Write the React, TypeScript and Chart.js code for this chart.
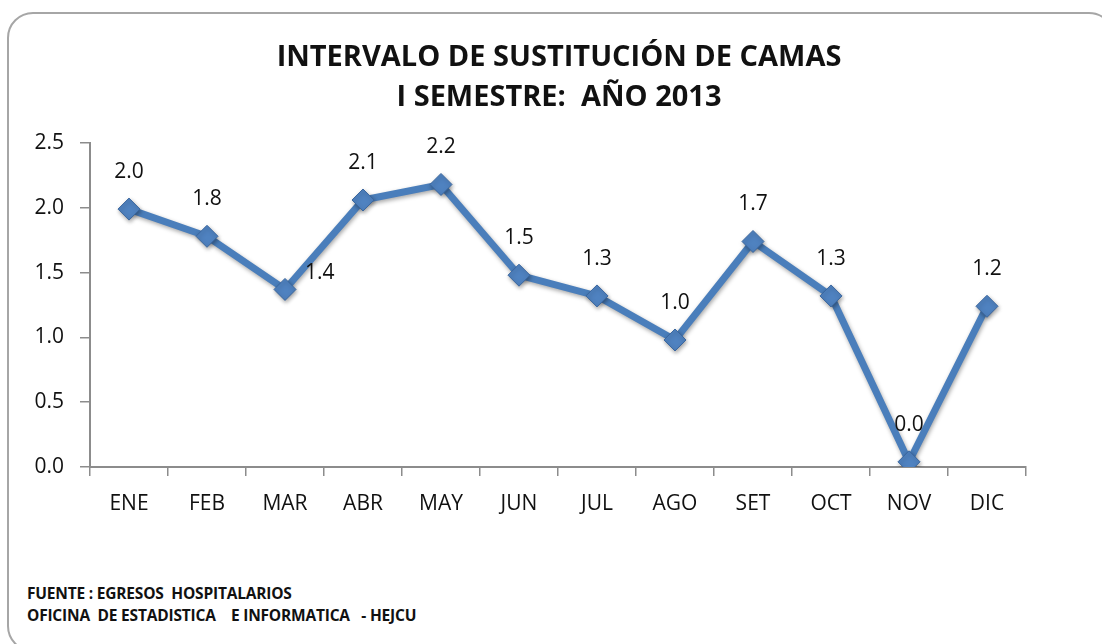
import React, { useEffect, useRef } from "react";
import { Chart, registerables } from "chart.js";

Chart.register(...registerables);

const TITLE_LINES = ["INTERVALO DE SUSTITUCIÓN DE CAMAS", "I SEMESTRE:  AÑO 2013"];
const MONTHS = ["ENE", "FEB", "MAR", "ABR", "MAY", "JUN", "JUL", "AGO", "SET", "OCT", "NOV", "DIC"];
const VALUES = [1.99, 1.78, 1.37, 2.06, 2.18, 1.48, 1.32, 0.98, 1.74, 1.32, 0.04, 1.24];
const Y_TICKS = [0, 0.5, 1.0, 1.5, 2.0, 2.5];
const RIGHT_LABEL_INDEX = [2];
const FOOTNOTES = ["FUENTE : EGRESOS  HOSPITALARIOS", "OFICINA  DE ESTADISTICA    E INFORMATICA   - HEJCU"];

const FONT = "'Open Sans', 'Noto Sans', sans-serif";

const titlePlugin = {
  id: "centeredTitle",
  afterDraw(chart: any) {
    const ctx = chart.ctx;
    ctx.save();
    ctx.font = `bold 29px ${FONT}`;
    ctx.fillStyle = "#111";
    ctx.textAlign = "center";
    ctx.textBaseline = "middle";
    TITLE_LINES.forEach((t, i) => ctx.fillText(t, 559, 58 + i * 40));
    ctx.restore();
  },
};

const dataLabelPlugin = {
  id: "dataLabels",
  afterDatasetsDraw(chart: any) {
    const ctx = chart.ctx;
    const meta = chart.getDatasetMeta(0);
    ctx.save();
    ctx.font = `21px ${FONT}`;
    ctx.fillStyle = "#111";
    meta.data.forEach((pt: any, i: number) => {
      const txt = VALUES[i].toFixed(1);
      ctx.textBaseline = "middle";
      if (RIGHT_LABEL_INDEX.includes(i)) {
        ctx.textAlign = "left";
        ctx.fillText(txt, pt.x + 20, pt.y - 16);
      } else {
        ctx.textAlign = "center";
        ctx.fillText(txt, pt.x, pt.y - 37);
      }
    });
    ctx.restore();
  },
};

const shadowPlugin = {
  id: "lineShadow",
  beforeDatasetDraw(chart: any) {
    const ctx = chart.ctx;
    ctx.save();
    ctx.shadowColor = "rgba(0,0,0,0.35)";
    ctx.shadowBlur = 4;
    ctx.shadowOffsetX = 1;
    ctx.shadowOffsetY = 2;
  },
  afterDatasetDraw(chart: any) {
    chart.ctx.restore();
  },
};

export default function App() {
  const ref = useRef<HTMLCanvasElement | null>(null);

  useEffect(() => {
    if (!ref.current) return;
    const chart = new Chart(ref.current, {
      type: "line",
      data: {
        labels: MONTHS,
        datasets: [
          {
            data: VALUES,
            borderColor: "#4a7ebb",
            borderWidth: 7,
            backgroundColor: "#4a7ebb",
            pointStyle: "rectRot",
            pointRadius: 11,
            pointHoverRadius: 11,
            pointBackgroundColor: "#4f82c0",
            pointBorderColor: "#3a669e",
            pointBorderWidth: 1,
            tension: 0,
            fill: false,
          },
        ],
      },
      options: {
        animation: false,
        responsive: false,
        maintainAspectRatio: false,
        events: [],
        layout: { padding: { left: 0, right: 76, top: 143, bottom: 0 } },
        plugins: {
          legend: { display: false },
          tooltip: { enabled: false },
          title: { display: false },
        },
        scales: {
          x: {
            offset: true,
            grid: {
              offset: true,
              drawOnChartArea: false,
              drawTicks: true,
              tickLength: 9,
              color: "#8c8c8c",
              lineWidth: 1.5,
            },
            border: { color: "#8c8c8c", width: 2 },
            ticks: {
              color: "#111",
              font: { family: FONT, size: 21 },
              padding: 15,
              maxRotation: 0,
            },
            afterFit(scale: any) {
              scale.height = 93;
            },
          },
          y: {
            min: 0,
            max: 2.5,
            afterBuildTicks(scale: any) {
              scale.ticks = Y_TICKS.map((v) => ({ value: v }));
            },
            grid: {
              drawOnChartArea: false,
              drawTicks: true,
              tickLength: 10,
              color: "#8c8c8c",
              lineWidth: 1.5,
            },
            border: { color: "#8c8c8c", width: 2 },
            ticks: {
              color: "#111",
              font: { family: FONT, size: 21 },
              padding: 16,
              callback: (v: any) => Number(v).toFixed(1),
            },
            afterFit(scale: any) {
              scale.width = 90;
            },
          },
        },
      },
      plugins: [shadowPlugin, dataLabelPlugin, titlePlugin],
    });
    return () => chart.destroy();
  }, []);

  return (
    <div
      style={{
        position: "fixed",
        left: 0,
        top: 0,
        width: 1102,
        height: 644,
        overflow: "hidden",
        background: "#fff",
      }}
    >
      <div
        style={{
          position: "absolute",
          left: 7,
          top: 12,
          width: 1108,
          height: 640,
          border: "2.5px solid #a6a6a6",
          borderRadius: 26,
          boxSizing: "border-box",
        }}
      />
      <canvas
        ref={ref}
        width={1102}
        height={560}
        style={{ position: "absolute", left: 0, top: 0, width: 1102, height: 560 }}
      />
      <div
        style={{
          position: "absolute",
          left: 27,
          top: 582,
          fontFamily: FONT,
          fontWeight: 700,
          fontSize: 15.5,
          lineHeight: "22px",
          color: "#111",
          whiteSpace: "pre",
          letterSpacing: -0.2,
        }}
      >
        {FOOTNOTES.map((t, i) => (
          <div key={i}>{t}</div>
        ))}
      </div>
    </div>
  );
}
